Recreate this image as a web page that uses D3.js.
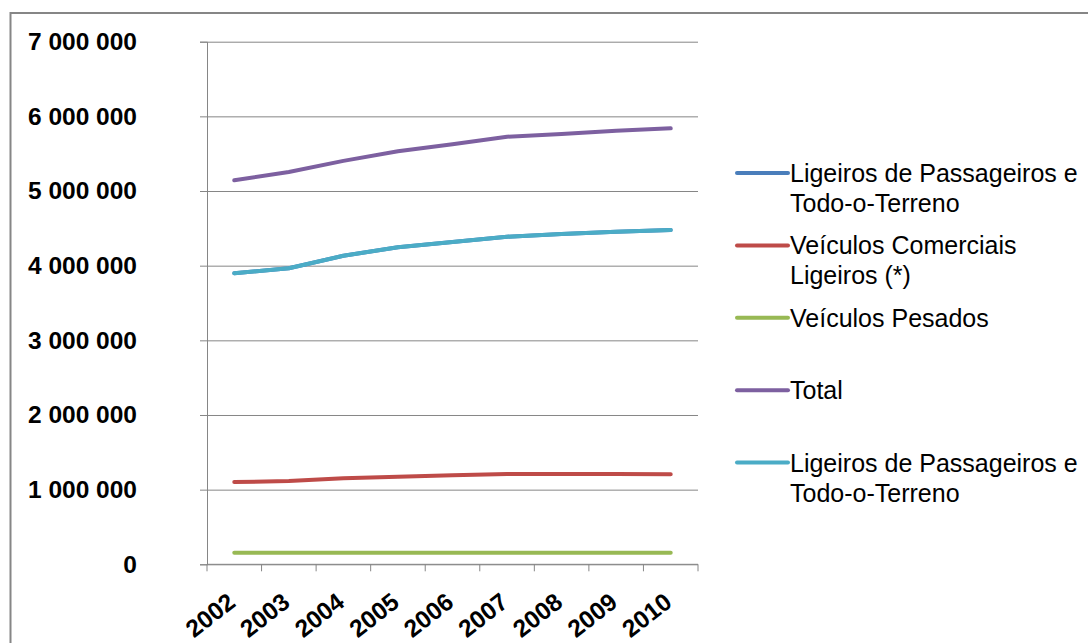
<!DOCTYPE html>
<html>
<head>
<meta charset="utf-8">
<script src="https://cdn.jsdelivr.net/npm/d3@7"></script>
<style>
  html, body { margin: 0; padding: 0; background: #ffffff; }
  svg { display: block; }
</style>
</head>
<body>
<svg id="chart" width="1088" height="643"></svg>
<script>
// ---- data ----
const years = ["2002", "2003", "2004", "2005", "2006", "2007", "2008", "2009", "2010"];
const ligeirosPassageirosA = [3898000, 3965000, 4133000, 4246000, 4317000, 4388000, 4424000, 4455000, 4478000];
const comerciaisLigeiros = [1102000, 1115000, 1152000, 1173000, 1192000, 1209000, 1209000, 1209000, 1205000];
const pesados = [156000, 156000, 156000, 156000, 156000, 156000, 156000, 156000, 156000];
const total = [5143000, 5254000, 5404000, 5532000, 5625000, 5727000, 5764000, 5808000, 5840000];
const ligeirosPassageirosB = [3898000, 3965000, 4133000, 4246000, 4317000, 4388000, 4424000, 4455000, 4478000];
const yTicks = [0, 1000000, 2000000, 3000000, 4000000, 5000000, 6000000, 7000000];
const seriesNames = [
  ["Ligeiros de Passageiros e", "Todo-o-Terreno"],
  ["Veículos Comerciais", "Ligeiros (*)"],
  ["Veículos Pesados"],
  ["Total"],
  ["Ligeiros de Passageiros e", "Todo-o-Terreno"]
];
const seriesColors = ["#4A7EBB", "#BE4B48", "#98B954", "#7D60A0", "#4BACC6"];
const seriesValues = [ligeirosPassageirosA, comerciaisLigeiros, pesados, total, ligeirosPassageirosB];

// ---- layout ----
const svg = d3.select("#chart");
const plot = { left: 207, right: 698, top: 41.7, bottom: 564.3 };
const gridColor = "#868686";
const font = "Arial, 'Liberation Sans', sans-serif";

// outer border
svg.append("rect")
  .attr("x", 10.5).attr("y", 13).attr("width", 1200).attr("height", 800)
  .attr("fill", "#ffffff").attr("stroke", gridColor).attr("stroke-width", 2);

const x = d3.scaleBand().domain(years).range([plot.left, plot.right]).padding(0);
const y = d3.scaleLinear().domain([0, 7000000]).range([plot.bottom, plot.top]);

// gridlines
const grid = svg.append("g").attr("transform", `translate(${plot.left},0)`)
  .call(d3.axisLeft(y).tickValues(yTicks).tickSize(-(plot.right - plot.left)).tickFormat(""));
grid.select(".domain").remove();
grid.selectAll("line").attr("stroke", gridColor).attr("stroke-width", 1);

// y axis
const fmt = d => d3.format(",")(d).replace(/,/g, " ");
const yAxis = svg.append("g").attr("transform", `translate(${plot.left},0)`)
  .call(d3.axisLeft(y).tickValues(yTicks).tickSize(7).tickPadding(63).tickFormat(fmt));
yAxis.select(".domain").attr("stroke", gridColor).attr("stroke-width", 1);
yAxis.selectAll("line").attr("stroke", gridColor);
yAxis.selectAll("text")
  .attr("font-family", font)
  .attr("font-weight", "bold").attr("font-size", "24.5px").attr("fill", "#000");

// x axis line + boundary ticks
const xAxis = svg.append("g").attr("transform", `translate(0,${plot.bottom})`);
xAxis.append("line")
  .attr("x1", plot.left).attr("x2", plot.right)
  .attr("stroke", gridColor).attr("stroke-width", 1);
const edges = years.map(d => x(d)).concat([x.range()[1]]);
xAxis.selectAll("line.tick").data(edges).join("line")
  .attr("class", "tick")
  .attr("x1", d => d).attr("x2", d => d).attr("y1", 0).attr("y2", 7)
  .attr("stroke", gridColor);
xAxis.selectAll("text").data(years).join("text")
  .attr("transform", d => `translate(${x(d) + x.bandwidth() / 2 - 8},${27}) rotate(-38)`)
  .attr("text-anchor", "end").attr("dy", "0.71em")
  .attr("font-family", font)
  .attr("font-weight", "bold").attr("font-size", "24.5px").attr("fill", "#000")
  .text(d => d);

// lines
const line = d3.line()
  .x((d, i) => x(years[i]) + x.bandwidth() / 2)
  .y(d => y(d));
svg.append("g").selectAll("path").data(seriesValues).join("path")
  .attr("d", d => line(d))
  .attr("fill", "none")
  .attr("stroke", (d, i) => seriesColors[i])
  .attr("stroke-width", 4)
  .attr("stroke-linecap", "round")
  .attr("stroke-linejoin", "round");

// legend
const legend = svg.append("g");
const entries = legend.selectAll("g").data(seriesNames).join("g")
  .attr("transform", (d, i) => `translate(737,${173 + i * 72.4})`);
entries.append("line")
  .attr("x1", 0).attr("x2", 51).attr("y1", 0).attr("y2", 0)
  .attr("stroke", (d, i) => seriesColors[i]).attr("stroke-width", 4)
  .attr("stroke-linecap", "round");
entries.append("text")
  .attr("x", 53).attr("y", 9)
  .attr("font-family", font)
  .attr("font-size", "25px").attr("fill", "#000")
  .selectAll("tspan").data(d => d).join("tspan")
  .attr("x", 53).attr("dy", (d, i) => i === 0 ? 0 : 30)
  .text(d => d);
</script>
</body>
</html>
